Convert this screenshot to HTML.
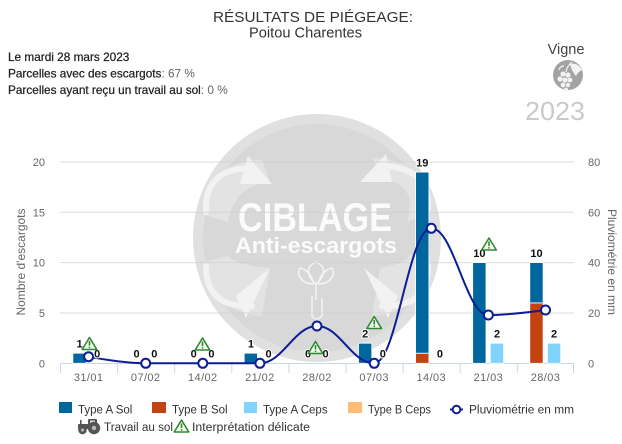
<!DOCTYPE html>
<html>
<head>
<meta charset="utf-8">
<style>
  html, body { margin: 0; padding: 0; background: #fff; }
  body { width: 622px; height: 444px; overflow: hidden; }
  svg { display: block; font-family: "Liberation Sans", "DejaVu Sans", sans-serif; }
</style>
</head>
<body>
<svg width="622" height="444" viewBox="0 0 622 444" xmlns="http://www.w3.org/2000/svg">
  <rect x="0" y="0" width="622" height="444" fill="#ffffff"/>

  <!-- Watermark -->
  <g>
    <circle cx="317" cy="238" r="124" fill="#e0e0e0"/>
    <circle cx="317" cy="238" r="114" fill="#d8d8d8"/>
    <!-- lighter diagonal zones -->
    <g fill="#e3e3e3">
      <path d="M205,215 Q210,160 262,160 L270,182 Q235,185 228,222 Z"/>
      <path d="M430,212 Q425,158 372,158 L383,180 Q418,183 407,222 Z"/>
      <path d="M205,262 Q212,312 262,316 L270,268 Q235,265 228,256 Z"/>
      <path d="M430,262 Q424,312 372,316 L380,268 Q412,262 408,254 Z"/>
    </g>
    <!-- arrows -->
    <g fill="none" stroke="#f2f2f2" stroke-width="6" stroke-linecap="round">
      <path d="M206,212 Q204,168 252,168"/>
      <path d="M428,210 Q430,166 380,166"/>
      <path d="M206,266 Q206,308 252,306"/>
      <path d="M428,266 Q428,308 382,306"/>
    </g>
    <g fill="#f2f2f2">
      <polygon points="248,156 272,184 240,184"/>
      <polygon points="386,154 360,182 392,182"/>
      <polygon points="246,318 270,268 236,296"/>
      <polygon points="388,318 364,268 398,296"/>
    </g>
    <text x="238" y="231" font-size="40" font-weight="bold" fill="#fbfbfb" textLength="154" lengthAdjust="spacingAndGlyphs">CIBLAGE</text>
    <text x="235" y="253" font-size="22" font-weight="bold" fill="#fbfbfb" textLength="162" lengthAdjust="spacingAndGlyphs">Anti-escargots</text>
    <!-- flower / hand -->
    <g fill="none" stroke="#f4f4f4" stroke-width="1.5">
      <path d="M316,284 C306,276 306,266 316,262 C326,266 326,276 316,284 Z"/>
      <path d="M314,284 C302,284 296,276 300,268 C308,270 312,276 314,284"/>
      <path d="M318,284 C330,284 336,276 332,268 C324,270 320,276 318,284"/>
      <path d="M316,284 L316,300 M312,296 L312,316 Q316,322 322,316 L322,298"/>
    </g>
  </g>

  <!-- Gridlines -->
  <g stroke="#cfcfcf" stroke-width="1" opacity="0.75">
    <line x1="60" y1="162" x2="574" y2="162"/>
    <line x1="60" y1="212.3" x2="574" y2="212.3"/>
    <line x1="60" y1="262.6" x2="574" y2="262.6"/>
    <line x1="60" y1="313" x2="574" y2="313"/>
  </g>
  <!-- X axis -->
  <g stroke="#ccd6eb" stroke-width="1">
    <line x1="60" y1="363.5" x2="574" y2="363.5"/>
    <line x1="60.5" y1="363.5" x2="60.5" y2="373"/>
    <line x1="117.6" y1="363.5" x2="117.6" y2="373"/>
    <line x1="174.7" y1="363.5" x2="174.7" y2="373"/>
    <line x1="231.8" y1="363.5" x2="231.8" y2="373"/>
    <line x1="288.9" y1="363.5" x2="288.9" y2="373"/>
    <line x1="346" y1="363.5" x2="346" y2="373"/>
    <line x1="403.1" y1="363.5" x2="403.1" y2="373"/>
    <line x1="460.2" y1="363.5" x2="460.2" y2="373"/>
    <line x1="517.3" y1="363.5" x2="517.3" y2="373"/>
    <line x1="573.5" y1="363.5" x2="573.5" y2="373"/>
  </g>

  <!-- Y axis labels -->
  <g font-size="11" fill="#666" text-anchor="end">
    <text x="45" y="166">20</text>
    <text x="45" y="216.3">15</text>
    <text x="45" y="266.6">10</text>
    <text x="45" y="317">5</text>
    <text x="45" y="367.3">0</text>
  </g>
  <g font-size="11" fill="#666" text-anchor="start">
    <text x="588" y="166">80</text>
    <text x="588" y="216.3">60</text>
    <text x="588" y="266.6">40</text>
    <text x="588" y="317">20</text>
    <text x="588" y="367.3">0</text>
  </g>
  <text transform="translate(25,262) rotate(-90)" font-size="12" fill="#666" text-anchor="middle">Nombre d'escargots</text>
  <text transform="translate(608,262) rotate(90)" font-size="12" fill="#666" text-anchor="middle">Pluviométrie en mm</text>

  <!-- X labels -->
  <g font-size="11" fill="#666" text-anchor="middle" letter-spacing="0.4">
    <text x="88.6" y="381">31/01</text>
    <text x="145.7" y="381">07/02</text>
    <text x="202.8" y="381">14/02</text>
    <text x="259.9" y="381">21/02</text>
    <text x="317" y="381">28/02</text>
    <text x="374.2" y="381">07/03</text>
    <text x="431.3" y="381">14/03</text>
    <text x="488.4" y="381">21/03</text>
    <text x="545.5" y="381">28/03</text>
  </g>

  <!-- Bars -->
  <g stroke="#ffffff" stroke-width="0.8">
    <rect x="72.9" y="353.2" width="13.3" height="10.1" fill="#00679e"/>
    <rect x="244.2" y="353.2" width="13.3" height="10.1" fill="#00679e"/>
    <rect x="358.5" y="343.2" width="13.3" height="20.1" fill="#00679e"/>
    <rect x="415.6" y="353.2" width="13.3" height="10.1" fill="#c4420f"/>
    <rect x="415.6" y="172.1" width="13.3" height="181.1" fill="#00679e"/>
    <rect x="472.7" y="262.6" width="13.3" height="100.7" fill="#00679e"/>
    <rect x="490.3" y="343.2" width="13.3" height="20.1" fill="#80d4fb"/>
    <rect x="529.8" y="302.9" width="13.3" height="60.4" fill="#c4420f"/>
    <rect x="529.8" y="262.6" width="13.3" height="40.3" fill="#00679e"/>
    <rect x="547.4" y="343.2" width="13.3" height="20.1" fill="#80d4fb"/>
  </g>

  <!-- Pluviometrie line -->
  <path d="M 88.6 356.7 C 88.6 356.7 122.86 363.3 145.7 363.3 C 168.54 363.3 179.96 363.3 202.8 363.3 C 225.64 363.3 237.06 363.3 259.9 363.3 C 282.74 363.3 294.16 326 317 326 C 339.84 326 351.36 363.3 374.2 363.3 C 397.04 363.3 408.46 228.3 431.3 228.3 C 454.14 228.3 465.56 315 488.4 315 C 511.24 315 545.5 310 545.5 310" fill="none" stroke="#0c1e96" stroke-width="2"/>
  <g fill="#ffffff" stroke="#0c1e96" stroke-width="2">
    <circle cx="88.6" cy="356.7" r="4.5"/>
    <circle cx="145.7" cy="363.3" r="4.5"/>
    <circle cx="202.8" cy="363.3" r="4.5"/>
    <circle cx="259.9" cy="363.3" r="4.5"/>
    <circle cx="317" cy="326" r="4.5"/>
    <circle cx="374.2" cy="363.3" r="4.5"/>
    <circle cx="431.3" cy="228.3" r="4.5"/>
    <circle cx="488.4" cy="315" r="4.5"/>
    <circle cx="545.5" cy="310" r="4.5"/>
  </g>

  <!-- Data labels -->
  <g font-size="11" font-weight="bold" fill="#111" text-anchor="middle" stroke="#ffffff" stroke-width="2" paint-order="stroke" stroke-linejoin="round">
    <text x="79.5" y="347.5">1</text><text x="97.2" y="357.5">0</text>
    <text x="136.6" y="357.5">0</text><text x="154.3" y="357.5">0</text>
    <text x="193.7" y="357.5">0</text><text x="211.4" y="357.5">0</text>
    <text x="250.9" y="347.5">1</text><text x="268.5" y="357.5">0</text>
    <text x="308" y="357.5">0</text><text x="325.6" y="357.5">0</text>
    <text x="365.2" y="337.5">2</text><text x="382.8" y="357.5">0</text>
    <text x="422.3" y="166.5">19</text><text x="439.9" y="357.5">0</text>
    <text x="479.4" y="257">10</text><text x="497" y="337.5">2</text>
    <text x="536.5" y="257">10</text><text x="554" y="337.5">2</text>
  </g>

  <!-- Warning triangles -->
  <g id="warns">
    <g transform="translate(89.5,337)">
      <polygon points="0,0.5 -7.3,12.5 7.3,12.5" fill="#f3fbf3" stroke="#2f8a2f" stroke-width="1.6" stroke-linejoin="round"/>
      <line x1="0" y1="4" x2="0" y2="8.6" stroke="#2f8a2f" stroke-width="1.6"/>
      <circle cx="0" cy="10.4" r="0.9" fill="#2f8a2f"/>
    </g>
    <g transform="translate(202.5,337.5)">
      <polygon points="0,0.5 -7.3,12.5 7.3,12.5" fill="#f3fbf3" stroke="#2f8a2f" stroke-width="1.6" stroke-linejoin="round"/>
      <line x1="0" y1="4" x2="0" y2="8.6" stroke="#2f8a2f" stroke-width="1.6"/>
      <circle cx="0" cy="10.4" r="0.9" fill="#2f8a2f"/>
    </g>
    <g transform="translate(315.5,341)">
      <polygon points="0,0.5 -7.3,12.5 7.3,12.5" fill="#f3fbf3" stroke="#2f8a2f" stroke-width="1.6" stroke-linejoin="round"/>
      <line x1="0" y1="4" x2="0" y2="8.6" stroke="#2f8a2f" stroke-width="1.6"/>
      <circle cx="0" cy="10.4" r="0.9" fill="#2f8a2f"/>
    </g>
    <g transform="translate(374.2,316)">
      <polygon points="0,0.5 -7.3,12.5 7.3,12.5" fill="#f3fbf3" stroke="#2f8a2f" stroke-width="1.6" stroke-linejoin="round"/>
      <line x1="0" y1="4" x2="0" y2="8.6" stroke="#2f8a2f" stroke-width="1.6"/>
      <circle cx="0" cy="10.4" r="0.9" fill="#2f8a2f"/>
    </g>
    <g transform="translate(489,237.5)">
      <polygon points="0,0.5 -7.3,12.5 7.3,12.5" fill="#f3fbf3" stroke="#2f8a2f" stroke-width="1.6" stroke-linejoin="round"/>
      <line x1="0" y1="4" x2="0" y2="8.6" stroke="#2f8a2f" stroke-width="1.6"/>
      <circle cx="0" cy="10.4" r="0.9" fill="#2f8a2f"/>
    </g>
  </g>

  <!-- Title -->
  <text x="213" y="22" font-size="15" fill="#333" textLength="200" lengthAdjust="spacingAndGlyphs">RÉSULTATS DE PIÉGEAGE:</text>
  <text x="249" y="37.5" font-size="15" fill="#333" textLength="113" lengthAdjust="spacingAndGlyphs">Poitou Charentes</text>

  <!-- Info -->
  <g font-size="11.8">
    <text x="8" y="61" fill="#222" stroke="#222" stroke-width="0.25">Le mardi 28 mars 2023</text>
    <text x="8" y="77.5"><tspan fill="#222" stroke="#222" stroke-width="0.25">Parcelles avec des escargots</tspan><tspan fill="#666">: 67 %</tspan></text>
    <text x="8" y="94"><tspan fill="#222" stroke="#222" stroke-width="0.25">Parcelles ayant reçu un travail au sol</tspan><tspan fill="#666">: 0 %</tspan></text>
  </g>

  <!-- Vigne / icon / 2023 -->
  <text x="566" y="54" font-size="14.5" fill="#444" text-anchor="middle">Vigne</text>
  <circle cx="568" cy="75" r="15" fill="#a3a3a3"/>
  <g fill="#f2f2f2">
    <path d="M570,64 Q578,62 582,70 Q578,72 576,76 Q572,72 570,64 Z"/>
    <circle cx="563" cy="74" r="2.6"/>
    <circle cx="568" cy="75" r="2.6"/>
    <circle cx="560" cy="79" r="2.6"/>
    <circle cx="565" cy="80" r="2.6"/>
    <circle cx="570" cy="80" r="2.4"/>
    <circle cx="563" cy="85" r="2.4"/>
    <circle cx="568" cy="85" r="2.2"/>
    <circle cx="566" cy="89.5" r="2"/>
  </g>
  <path d="M566,72 Q567,66 572,62 M559,70 Q560,66 564,66" fill="none" stroke="#f2f2f2" stroke-width="1.2"/>
  <text x="555" y="120" font-size="26" fill="#c9c9c9" text-anchor="middle" textLength="60" lengthAdjust="spacingAndGlyphs">2023</text>

  <!-- Legend -->
  <g font-size="11.5" fill="#333">
    <rect x="59" y="402" width="13" height="11" fill="#00679e"/>
    <text x="78" y="413.5">Type A Sol</text>
    <rect x="152" y="402" width="14" height="11" fill="#c4420f"/>
    <text x="172" y="413.5">Type B Sol</text>
    <rect x="244" y="402" width="13" height="11" fill="#80d4fb"/>
    <text x="263" y="413.5">Type A Ceps</text>
    <rect x="348" y="402" width="14" height="11" fill="#ffbc75"/>
    <text x="368" y="413.5" textLength="63" lengthAdjust="spacingAndGlyphs">Type B Ceps</text>
    <line x1="450" y1="409.5" x2="463" y2="409.5" stroke="#0c1e96" stroke-width="2"/>
    <circle cx="456.5" cy="409.5" r="3.8" fill="#fff" stroke="#0c1e96" stroke-width="2"/>
    <text x="469" y="413.5" textLength="105" lengthAdjust="spacingAndGlyphs">Pluviométrie en mm</text>

    <!-- tractor -->
    <g fill="#555">
      <rect x="88" y="419" width="9" height="7" rx="1"/>
      <rect x="90" y="420.5" width="5" height="3.5" fill="#ddd"/>
      <rect x="78" y="424" width="13" height="5" rx="1"/>
      <rect x="80" y="420" width="1.6" height="4"/>
      <circle cx="94" cy="428" r="6.2"/>
      <circle cx="94" cy="428" r="2.2" fill="#bbb"/>
      <circle cx="82.5" cy="430" r="4.3"/>
      <circle cx="82.5" cy="430" r="1.5" fill="#bbb"/>
    </g>
    <text x="104" y="431" textLength="69" lengthAdjust="spacingAndGlyphs">Travail au sol</text>
    <g transform="translate(181.5,419.5)">
      <polygon points="0,0.5 -7.3,12.5 7.3,12.5" fill="#f3fbf3" stroke="#2f8a2f" stroke-width="1.6" stroke-linejoin="round"/>
      <line x1="0" y1="4" x2="0" y2="8.6" stroke="#2f8a2f" stroke-width="1.6"/>
      <circle cx="0" cy="10.4" r="0.9" fill="#2f8a2f"/>
    </g>
    <text x="192" y="431" textLength="118" lengthAdjust="spacingAndGlyphs">Interprétation délicate</text>
  </g>
</svg>
</body>
</html>
